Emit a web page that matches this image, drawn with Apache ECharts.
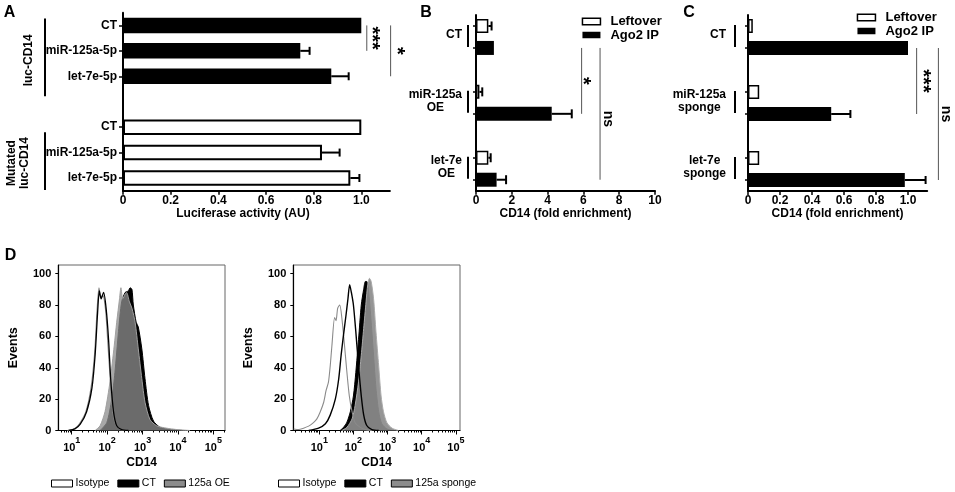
<!DOCTYPE html>
<html>
<head>
<meta charset="utf-8">
<title>CD14 reporter, Ago2 IP and flow</title>
<script src="https://cdn.jsdelivr.net/npm/echarts@6.0.0/dist/echarts.min.js"></script>
<style>
  html, body { margin: 0; padding: 0; background: #fff; }
  #main { width: 955px; height: 492px; }
</style>
</head>
<body>
<div id="main"></div>
<script>
// A - luciferase activity
const aCats = ['CT', 'miR-125a-5p', 'let-7e-5p', '', 'CT', 'miR-125a-5p', 'let-7e-5p'];
const aVals = [1.0, 0.744, 0.874, null, 1.0, 0.835, 0.954];
const aErr = [0, 0.039, 0.073, null, 0, 0.074, 0.038];
const aTicks = [0, 0.2, 0.4, 0.6, 0.8, 1.0];

// B - Ago2 IP, overexpression
const bGroups = ['CT', 'miR-125a\nOE', 'let-7e\nOE'];
const bLeftover = [0.69, 0.19, 0.69];
const bLeftoverErr = [0.18, 0.16, 0.13];
const bAgo2 = [1.0, 4.23, 1.15];
const bAgo2Err = [0, 1.12, 0.53];

// C - Ago2 IP, sponges
const cGroups = ['CT', 'miR-125a\nsponge', 'let-7e\nsponge'];
const cLeftover = [0.03, 0.07, 0.07];
const cLeftoverErr = [0, 0, 0];
const cAgo2 = [1.0, 0.52, 0.98];
const cAgo2Err = [0, 0.12, 0.13];

// D - flow histograms, x = log10(CD14), y = events
const decades = [1, 2, 3, 4, 5];
const eventTicks = [0, 20, 40, 60, 80, 100];
const isoOeBlack = [[0.91,0],[1.09,1],[1.24,4],[1.42,12],[1.57,27],[1.66,48],[1.73,75],[1.78,89],[1.83,84],[1.90,88],[1.97,78],[2.04,58],[2.10,33],[2.18,12],[2.27,3],[2.41,0.5],[2.60,0]];
const isoOeGrey = [[0.88,0],[1.06,1],[1.21,4],[1.40,12],[1.55,28],[1.65,50],[1.72,78],[1.77,91],[1.82,85],[1.88,86],[1.96,76],[2.02,56],[2.09,32],[2.16,12],[2.26,3],[2.40,0.5],[2.58,0]];
const ctOe = [[1.80,0],[1.99,5],[2.13,20],[2.22,37],[2.32,63],[2.41,82],[2.51,88],[2.60,89],[2.65,91],[2.70,90],[2.74,80],[2.82,69],[2.88,66],[2.98,52],[3.07,33],[3.17,16],[3.31,6],[3.50,2],[3.78,0.6],[4.15,0]];
const oe125 = [[1.66,0],[1.80,3],[1.94,12],[2.08,31],[2.20,54],[2.27,69],[2.35,84],[2.39,91],[2.44,84],[2.51,87],[2.55,88],[2.63,82],[2.70,78],[2.79,69],[2.88,52],[2.98,33],[3.07,18],[3.21,7],[3.40,3],[3.68,1.5],[3.97,0.6],[4.34,0]];
const isoSpGrey = [[0.25,1],[0.40,0.6],[0.54,1.5],[0.69,2.8],[0.83,5],[0.93,7.4],[1.03,12],[1.13,18],[1.20,25.5],[1.27,31],[1.32,41],[1.37,54],[1.45,72],[1.49,70],[1.54,78],[1.60,80],[1.66,72],[1.74,54],[1.81,37],[1.88,22],[1.96,12],[2.05,5],[2.20,2],[2.35,0.6],[2.54,0]];
const isoSpBlack = [[0.69,0],[0.98,1.5],[1.18,4.3],[1.32,9.8],[1.47,20],[1.57,33],[1.64,48],[1.71,61],[1.78,73],[1.84,84],[1.89,93],[1.94,88],[2.00,80],[2.07,63],[2.15,41],[2.23,22],[2.30,10],[2.39,3.2],[2.54,0.6],[2.74,0]];
const ctSp = [[1.61,0],[1.71,2],[1.81,5.3],[1.91,12],[2.00,22],[2.07,37],[2.15,58],[2.23,80],[2.30,90],[2.35,95],[2.39,95],[2.44,90],[2.52,69],[2.59,48],[2.66,27],[2.74,12],[2.83,4.3],[2.98,1],[3.13,0]];
const sponge125 = [[1.66,0],[1.81,2],[1.96,7.4],[2.05,16],[2.15,31],[2.23,48],[2.30,65],[2.37,82],[2.42,93],[2.47,97],[2.52,95],[2.59,84],[2.66,63],[2.74,41],[2.81,22],[2.88,12],[2.98,5],[3.13,1.5],[3.32,0]];

const FONT = '"Liberation Sans", Arial, sans-serif';
const bold = (size) => ({ color: '#000', fontWeight: 'bold', fontSize: size, fontFamily: FONT });

// slot layout for B / C: two bars per group, one empty slot between groups
const nSlots = bGroups.length * 3 - 1;
const slotOf = (g, k) => g * 3 + k;
function slotValues(vals, k) {
  const arr = new Array(nSlots).fill('-');
  vals.forEach((v, g) => { arr[slotOf(g, k)] = v; });
  return arr;
}
function errItems(vals, errs, k) {
  const out = [];
  vals.forEach((v, g) => { if (errs[g]) out.push([v, slotOf(g, k), errs[g]]); });
  return out;
}
const slotNames = Array.from({ length: nSlots }, (_, i) => String(i));

function errorBars(capPx, lw) {
  return function (params, api) {
    const v = api.value(0), slot = api.value(1), e = api.value(2);
    const p0 = api.coord([v, slot]);
    const p1 = api.coord([v + e, slot]);
    const st = { stroke: '#000', lineWidth: lw };
    return { type: 'group', children: [
      { type: 'line', shape: { x1: p0[0], y1: p0[1], x2: p1[0], y2: p1[1] }, style: st },
      { type: 'line', shape: { x1: p1[0], y1: p1[1] - capPx / 2, x2: p1[0], y2: p1[1] + capPx / 2 }, style: st }
    ] };
  };
}

const fmt1 = (v) => (v === 0 ? '0' : v.toFixed(1));
const blackLine = (w) => ({ show: true, onZero: false, lineStyle: { color: '#000', width: w } });

function barValueAxis(grid, max, ticks, name, extra) {
  return Object.assign({
    gridIndex: grid, type: 'value', min: 0, max: max, splitLine: { show: false },
    axisLine: blackLine(2),
    axisTick: { show: true, length: 4, lineStyle: { color: '#000', width: 1.5 }, customValues: ticks },
    axisLabel: Object.assign({ customValues: ticks, formatter: fmt1, margin: 4 }, bold(12)),
    name: name, nameLocation: 'middle', nameGap: 16, nameTextStyle: bold(12)
  }, extra || {});
}
function slotAxis(grid) {
  return {
    gridIndex: grid, type: 'category', inverse: true, data: slotNames,
    axisLine: blackLine(2),
    axisTick: { show: true, alignWithLabel: true, length: 3, lineStyle: { color: '#000', width: 1.5 },
      interval: (i) => i % 3 !== 2 },
    axisLabel: { show: false }
  };
}
function decadeAxis(grid, min, max) {
  return {
    gridIndex: grid, type: 'value', position: 'bottom', min: min, max: max, splitLine: { show: false },
    axisLine: blackLine(1.2),
    axisTick: { show: true, length: 4, lineStyle: { color: '#000', width: 1 }, customValues: decades },
    axisLabel: {
      customValues: decades, margin: 6, formatter: (v) => '{b|10}{s|' + v + '}',
      rich: {
        b: { fontSize: 11, fontWeight: 'bold', fontFamily: FONT, color: '#000', lineHeight: 22 },
        s: { fontSize: 9, fontWeight: 'bold', fontFamily: FONT, color: '#000', verticalAlign: 'top' }
      }
    },
    name: 'CD14', nameLocation: 'middle', nameGap: 26, nameTextStyle: bold(12)
  };
}
function minorDecadeAxis(grid, min, max) {
  const vals = [];
  for (let n = 0; n <= 5; n++) for (let k = 2; k <= 9; k++) {
    const d = n + Math.log10(k);
    if (d > min && d < max) vals.push(d);
  }
  return {
    gridIndex: grid, type: 'value', position: 'bottom', min: min, max: max, splitLine: { show: false },
    axisLine: { show: false },
    axisTick: { show: true, length: 2, lineStyle: { color: '#000', width: 1 }, customValues: vals },
    axisLabel: { show: false }
  };
}
function eventsAxis(grid) {
  return {
    gridIndex: grid, type: 'value', min: 0, max: 105.5, splitLine: { show: false },
    axisLine: blackLine(1.2),
    axisTick: { show: true, length: 3, lineStyle: { color: '#000', width: 1 }, customValues: eventTicks },
    axisLabel: Object.assign({ customValues: eventTicks, margin: 7 }, bold(11)),
    name: 'Events', nameLocation: 'middle', nameGap: 38, nameTextStyle: bold(12.5)
  };
}
function hist(name, data, xi, yi, line, area, z) {
  const s = { type: 'line', name: name, data: data, xAxisIndex: xi, yAxisIndex: yi, symbol: 'none',
    smooth: 0.25, silent: true, z: z, lineStyle: line, itemStyle: { color: line.color } };
  if (area) s.areaStyle = area;
  return s;
}
const barLegend = (left, top) => ({
  left: left, top: top, orient: 'vertical', padding: 0, itemGap: 0.5, itemWidth: 18, itemHeight: 6.5,
  icon: 'rect', selectedMode: false,
  textStyle: Object.assign({ padding: [0, 0, 0, 5], lineHeight: 13 }, bold(13)),
  data: [
    { name: 'Leftover', itemStyle: { color: '#fff', borderColor: '#000', borderWidth: 1.5 } },
    { name: 'Ago2 IP', itemStyle: { color: '#000', borderWidth: 0 } }
  ]
});
const flowLegend = (left, third) => ({
  left: left, top: 478, orient: 'horizontal', padding: 0, itemGap: 8, itemWidth: 21, itemHeight: 7,
  icon: 'rect', selectedMode: false,
  textStyle: { color: '#000', fontSize: 10.5, fontFamily: FONT, padding: [0, 0, 0, -2] },
  data: [
    { name: 'Isotype', itemStyle: { color: '#fff', borderColor: '#000', borderWidth: 1 } },
    { name: 'CT', itemStyle: { color: '#000', borderColor: '#000', borderWidth: 1 } },
    { name: third, itemStyle: { color: '#8c8c8c', borderColor: '#000', borderWidth: 1 } }
  ]
});

const aData = aVals.map((v, i) => v == null ? '-' : {
  value: v,
  itemStyle: i < 3 ? { color: '#000' } : { color: '#fff', borderColor: '#000', borderWidth: 2 }
});
const aErrData = [];
aVals.forEach((v, i) => { if (aErr[i]) aErrData.push([v, i, aErr[i]]); });

const whiteBar = { color: '#fff', borderColor: '#000', borderWidth: 1.5 };
const blackBar = { color: '#000' };

const chart = echarts.init(document.getElementById('main'));
chart.setOption({
  animation: false,
  backgroundColor: '#fff',
  textStyle: { fontFamily: FONT },
  grid: [
    { left: 123, top: 12.7, width: 266.9, height: 178, outerBoundsMode: 'none', containLabel: false },
    { left: 476, top: 15, width: 179, height: 175.7, outerBoundsMode: 'none', containLabel: false },
    { left: 748, top: 15, width: 179.2, height: 176, outerBoundsMode: 'none', containLabel: false },
    { left: 58.3, top: 265, width: 166.7, height: 165.5, outerBoundsMode: 'none', containLabel: false,
      show: true, borderColor: '#666', borderWidth: 1 },
    { left: 293.3, top: 265, width: 166.7, height: 165.5, outerBoundsMode: 'none', containLabel: false,
      show: true, borderColor: '#666', borderWidth: 1 }
  ],
  xAxis: [
    barValueAxis(0, 1.12, aTicks, 'Luciferase activity (AU)', {
      nameGap: 15, nameTextStyle: Object.assign({ padding: [0, 27, 0, 0] }, bold(12)) }),
    barValueAxis(1, 10, null, 'CD14 (fold enrichment)', {
      interval: 2,
      axisTick: { show: true, length: 4, lineStyle: { color: '#000', width: 1.5 } },
      axisLabel: Object.assign({ margin: 4 }, bold(12)) }),
    barValueAxis(2, 1.12, aTicks, 'CD14 (fold enrichment)'),
    decadeAxis(3, 0.62, 5.33),
    minorDecadeAxis(3, 0.62, 5.33),
    decadeAxis(4, 0.24, 5.12),
    minorDecadeAxis(4, 0.24, 5.12)
  ],
  yAxis: [
    {
      gridIndex: 0, type: 'category', inverse: true, data: aCats.map((c, i) => String(i)),
      axisLine: blackLine(2),
      axisTick: { show: true, alignWithLabel: true, length: 4, lineStyle: { color: '#000', width: 1.5 },
        interval: (i) => aCats[i] !== '' },
      axisLabel: Object.assign({ interval: 0, margin: 6, formatter: (v) => aCats[+v] }, bold(12))
    },
    slotAxis(1),
    slotAxis(2),
    eventsAxis(3),
    eventsAxis(4)
  ],
  legend: [barLegend(581.7, 15), barLegend(856.7, 11), flowLegend(51, '125a OE'), flowLegend(278, '125a sponge')],
  series: [
    { type: 'bar', name: 'luc', xAxisIndex: 0, yAxisIndex: 0, data: aData, barWidth: 15.5, silent: true },
    { type: 'custom', xAxisIndex: 0, yAxisIndex: 0, data: aErrData, encode: { x: 0, y: 1 },
      renderItem: errorBars(8, 2), silent: true, z: 5 },

    { type: 'bar', name: 'Leftover', xAxisIndex: 1, yAxisIndex: 1, data: slotValues(bLeftover, 0),
      barWidth: 14, barGap: '-100%', itemStyle: whiteBar, silent: true },
    { type: 'bar', name: 'Ago2 IP', xAxisIndex: 1, yAxisIndex: 1, data: slotValues(bAgo2, 1),
      barWidth: 14, barGap: '-100%', itemStyle: blackBar, silent: true },
    { type: 'custom', xAxisIndex: 1, yAxisIndex: 1, encode: { x: 0, y: 1 }, silent: true, z: 5,
      data: errItems(bLeftover, bLeftoverErr, 0).concat(errItems(bAgo2, bAgo2Err, 1)), renderItem: errorBars(9, 2) },

    { type: 'bar', name: 'Leftover', xAxisIndex: 2, yAxisIndex: 2, data: slotValues(cLeftover, 0),
      barWidth: 14, barGap: '-100%', itemStyle: whiteBar, silent: true },
    { type: 'bar', name: 'Ago2 IP', xAxisIndex: 2, yAxisIndex: 2, data: slotValues(cAgo2, 1),
      barWidth: 14, barGap: '-100%', itemStyle: blackBar, silent: true },
    { type: 'custom', xAxisIndex: 2, yAxisIndex: 2, encode: { x: 0, y: 1 }, silent: true, z: 5,
      data: errItems(cLeftover, cLeftoverErr, 0).concat(errItems(cAgo2, cAgo2Err, 1)), renderItem: errorBars(8, 2) },

    hist('CT', ctOe, 3, 3, { color: '#000', width: 1 }, { color: '#000', opacity: 1 }, 2),
    hist('125a OE', oe125, 3, 3, { color: '#a0a0a0', width: 1 }, { color: 'rgb(140,140,140)', opacity: 0.76 }, 3),
    hist('Isotype', isoOeGrey, 3, 3, { color: '#8a8a8a', width: 1.2 }, null, 4),
    hist('Isotype', isoOeBlack, 3, 3, { color: '#000', width: 1.3 }, null, 5),

    hist('Isotype', isoSpGrey, 5, 4, { color: '#8a8a8a', width: 1.1 }, null, 4),
    hist('Isotype', isoSpBlack, 5, 4, { color: '#000', width: 1.4 }, null, 5),
    hist('CT', ctSp, 5, 4, { color: '#000', width: 1 }, { color: '#000', opacity: 1 }, 2),
    hist('125a sponge', sponge125, 5, 4, { color: '#aaa', width: 1 }, { color: 'rgb(140,140,140)', opacity: 0.92 }, 3)
  ]
});

// ---- annotations placed from the axes ----
const px = (xi, yi, x, y) => chart.convertToPixel({ xAxisIndex: xi, yAxisIndex: yi }, [x, y]);
const measure = document.createElement('canvas').getContext('2d');
function blockCenterX(text, font, right) {
  measure.font = font;
  const w = Math.max.apply(null, text.split('\n').map((s) => measure.measureText(s).width));
  return right - w / 2;
}
const graphics = [];
function txt(x, y, text, font, rot, color) {
  graphics.push({ type: 'text', x: x, y: y, rotation: rot || 0, silent: true,
    style: { text: text, font: font, fill: color || '#000', align: 'center', verticalAlign: 'middle', lineHeight: 13 } });
}
function vline(x, y1, y2, w, color) {
  graphics.push({ type: 'line', silent: true, shape: { x1: x, y1: y1, x2: x, y2: y2 },
    style: { stroke: color || '#000', lineWidth: w } });
}

// panel letters
txt(9.5, 12.5, 'A', 'bold 16px ' + FONT);
txt(426, 13, 'B', 'bold 16px ' + FONT);
txt(689, 13, 'C', 'bold 16px ' + FONT);
txt(10.5, 256, 'D', 'bold 16px ' + FONT);

// A: construct brackets
const aY = (i) => px(0, 0, 0, i)[1];
vline(45, aY(0) - 7, aY(2) + 20, 2);
vline(45, aY(4) + 5, aY(6) + 12, 2);
txt(28.5, (aY(0) - 7 + aY(2) + 20) / 2 + 3, 'luc-CD14', 'bold 12px ' + FONT, Math.PI / 2);
txt(18, (aY(4) + 5 + aY(6) + 12) / 2 + 2, 'Mutated\nluc-CD14', 'bold 12px ' + FONT, Math.PI / 2);

// B / C: group labels and brackets
function groupLabels(ai, groups, bracketGap, labelRight) {
  groups.forEach((g, gi) => {
    const p0 = px(ai, ai, 0, slotOf(gi, 0));
    const p1 = px(ai, ai, 0, slotOf(gi, 1));
    vline(p0[0] - bracketGap, p0[1] - 1, p1[1] - 1, 2);
    const font = 'bold 12px ' + FONT;
    txt(blockCenterX(g, font, p0[0] - labelRight), (p0[1] + p1[1]) / 2 - 2, g, font);
  });
}
groupLabels(1, bGroups, 8, 14);
groupLabels(2, cGroups, 13, 22);

// significance brackets
function sig(xi, yi, at, yFrom, yTo, text, size, dx, dy) {
  const a = px(xi, yi, at, yFrom), b = px(xi, yi, at, yTo);
  vline(a[0], a[1], b[1], 1, '#555');
  txt(a[0] + dx, (a[1] + b[1]) / 2 + (dy || 0), text, 'bold ' + size + 'px ' + FONT, -Math.PI / 2);
}
sig(0, 0, 1.023, 0, 1, '***', 20, 5);
sig(0, 0, 1.123, 0, 2, '*', 20, 6);
sig(1, 1, 5.9, slotOf(0, 1), slotOf(1, 1), '*', 20, 1);
sig(1, 1, 6.93, slotOf(0, 1), slotOf(2, 1), 'ns', 14, 8, 5);
sig(2, 2, 1.054, slotOf(0, 1), slotOf(1, 1), '***', 20, 6);
sig(2, 2, 1.19, slotOf(0, 1), slotOf(2, 1), 'ns', 14, 7);

chart.setOption({ graphic: graphics });
</script>
</body>
</html>
